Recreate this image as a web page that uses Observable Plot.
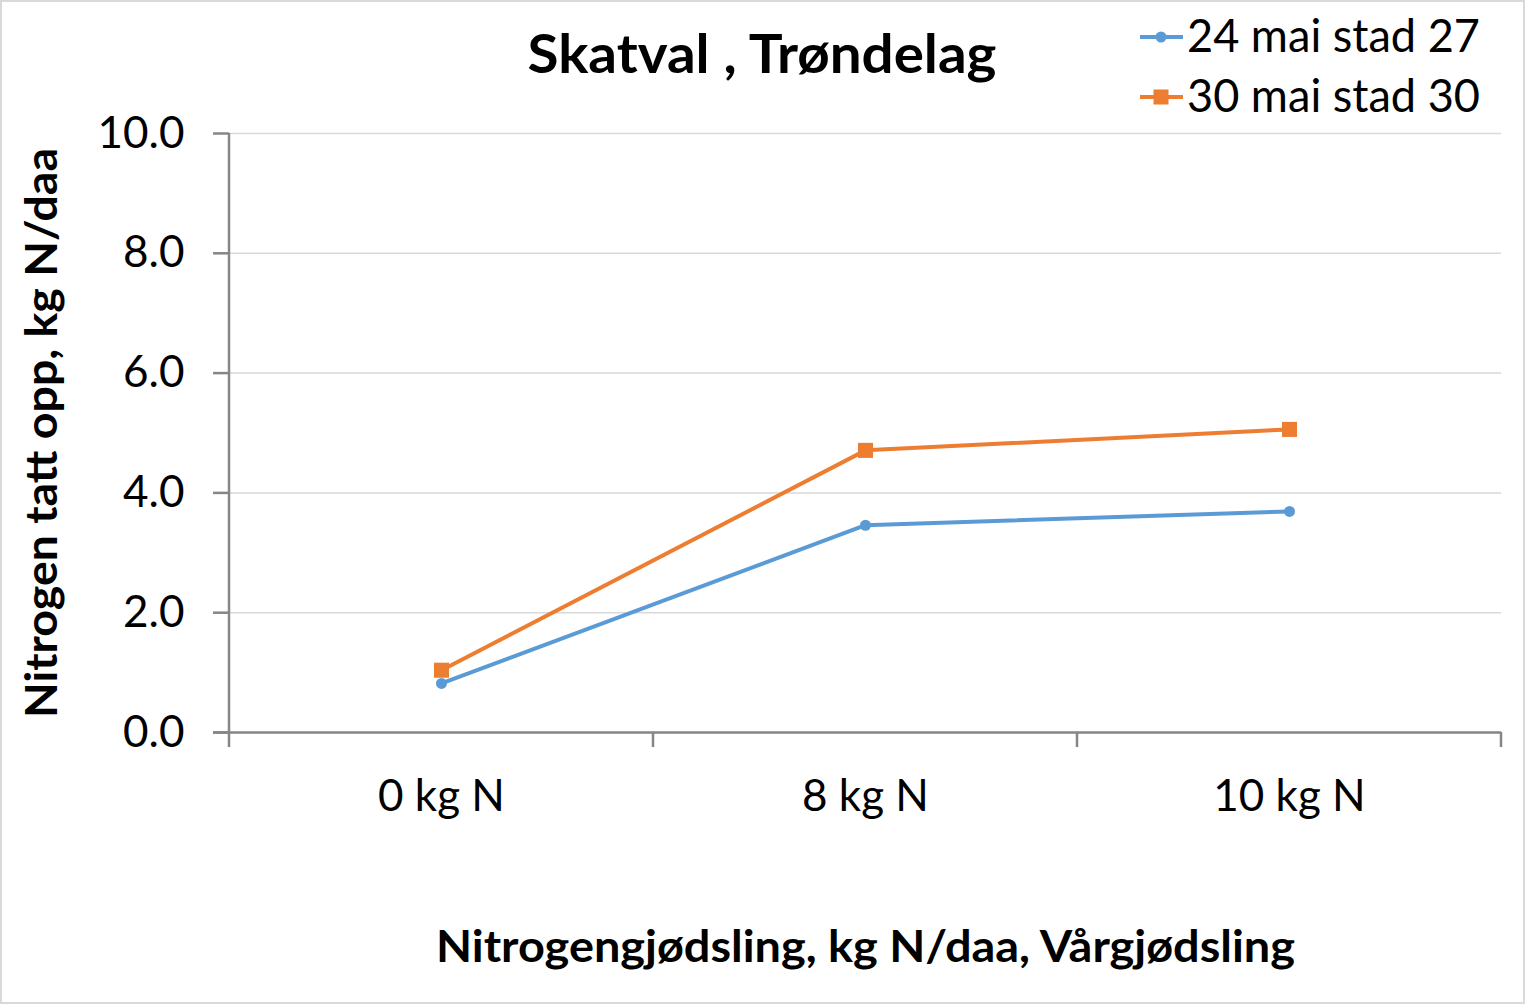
<!DOCTYPE html>
<html>
<head>
<meta charset="utf-8">
<script src="https://cdn.jsdelivr.net/npm/d3@7"></script>
<script src="https://cdn.jsdelivr.net/npm/@observablehq/plot@0.6"></script>
<style>
  html, body { margin: 0; padding: 0; background: #fff; }
  #chart svg { display: block; }
</style>
</head>
<body>
<div id="chart"></div>
<script>
const categories = ["0 kg N", "8 kg N", "10 kg N"];
const seriesNames = ["24 mai stad 27", "30 mai stad 30"];
const values24mai = [0.82, 3.46, 3.69];
const values30mai = [1.04, 4.71, 5.06];
const yTicks = [0, 2, 4, 6, 8, 10];
const colors = ["#5b9bd5", "#ed7d31"];
const titleText = "Skatval , Trøndelag";
const xLabel = "Nitrogengjødsling, kg N/daa, Vårgjødsling";
const yLabel = "Nitrogen tatt opp, kg N/daa";

const data = [];
categories.forEach((c, i) => {
  data.push({cat: c, value: values24mai[i], series: seriesNames[0]});
  data.push({cat: c, value: values30mai[i], series: seriesNames[1]});
});
const d24 = data.filter(d => d.series === seriesNames[0]);
const d30 = data.filter(d => d.series === seriesNames[1]);

const W = 1525, H = 1004;
const FONT = "Lato, 'Open Sans', sans-serif";
const AXIS = "#868686";

const plot = Plot.plot({
  width: W,
  height: H,
  marginLeft: 229,
  marginRight: 24,
  marginTop: 133,
  marginBottom: 272,
  style: {fontFamily: FONT, background: "#fff", color: "#000"},
  x: {type: "band", domain: categories, padding: 0, label: null},
  y: {domain: [0, 10], label: null},
  marks: [
    Plot.gridY(yTicks, {stroke: "#d9d9d9", strokeOpacity: 1, strokeWidth: 1.5}),
    Plot.axisY(yTicks, {tickFormat: d3.format(".1f"), tickSize: 16, tickPadding: 29, fontSize: 44, stroke: AXIS, strokeWidth: 2.5, fill: "#000", label: null}),
    Plot.axisX({tickSize: 0, tickPadding: 47, fontSize: 44, fill: "#000", label: null}),
    Plot.ruleY([0], {stroke: AXIS, strokeWidth: 2.5, insetLeft: -16}),
    Plot.line(d24, {x: "cat", y: "value", stroke: colors[0], strokeWidth: 4}),
    Plot.line(d30, {x: "cat", y: "value", stroke: colors[1], strokeWidth: 4}),
    Plot.dot(d24, {x: "cat", y: "value", fill: colors[0], r: 5.5, symbol: "circle"}),
    Plot.dot(d30, {x: "cat", y: "value", fill: colors[1], r: 8.5, symbol: "square"})
  ]
});

const svg = d3.select(plot);
const xs = plot.scale("x");
const ys = plot.scale("y");
const bw = xs.bandwidth;
const y0 = ys.apply(0), y10 = ys.apply(10);
const xL = xs.apply(categories[0]);

// y axis line
svg.append("line").attr("x1", xL).attr("x2", xL).attr("y1", y10).attr("y2", y0)
  .attr("stroke", AXIS).attr("stroke-width", 2.5);
// category boundary ticks
const bounds = categories.map(c => xs.apply(c)).concat([xs.apply(categories[categories.length - 1]) + bw]);
bounds.forEach(b => {
  svg.append("line").attr("x1", b).attr("x2", b).attr("y1", y0).attr("y2", y0 + 15)
    .attr("stroke", AXIS).attr("stroke-width", 2.5);
});

// title
svg.append("text").attr("x", 762).attr("y", 73).attr("text-anchor", "middle")
  .attr("font-family", FONT).attr("font-weight", "bold").attr("font-size", 53)
  .attr("textLength", 469).attr("lengthAdjust", "spacingAndGlyphs")
  .attr("fill", "#000").text(titleText);
// x label
svg.append("text").attr("x", 865.5).attr("y", 962).attr("text-anchor", "middle")
  .attr("font-family", FONT).attr("font-weight", "bold").attr("font-size", 43)
  .attr("textLength", 859).attr("lengthAdjust", "spacingAndGlyphs")
  .attr("fill", "#000").text(xLabel);
// y label
svg.append("text").attr("transform", "translate(57,433) rotate(-90)").attr("text-anchor", "middle")
  .attr("font-family", FONT).attr("font-weight", "bold").attr("font-size", 43)
  .attr("textLength", 570).attr("lengthAdjust", "spacingAndGlyphs")
  .attr("fill", "#000").text(yLabel);

// legend
const legY = [37, 97];
seriesNames.forEach((name, i) => {
  const g = svg.append("g");
  g.append("line").attr("x1", 1140).attr("x2", 1183).attr("y1", legY[i]).attr("y2", legY[i])
    .attr("stroke", colors[i]).attr("stroke-width", 4);
  if (i === 0) {
    g.append("circle").attr("cx", 1161).attr("cy", legY[i]).attr("r", 5.5).attr("fill", colors[i]);
  } else {
    g.append("rect").attr("x", 1161 - 7.5).attr("y", legY[i] - 7.5).attr("width", 15).attr("height", 15).attr("fill", colors[i]);
  }
  g.append("text").attr("x", 1187).attr("y", legY[i] + 15).attr("text-anchor", "start")
    .attr("font-family", FONT).attr("font-size", 46)
    .attr("textLength", 293).attr("lengthAdjust", "spacingAndGlyphs")
    .attr("fill", "#000").text(name);
});

// outer border
svg.append("rect").attr("x", 1).attr("y", 1).attr("width", W - 2).attr("height", H - 2)
  .attr("fill", "none").attr("stroke", "#d9d9d9").attr("stroke-width", 2);

document.getElementById("chart").appendChild(plot);
</script>
</body>
</html>
